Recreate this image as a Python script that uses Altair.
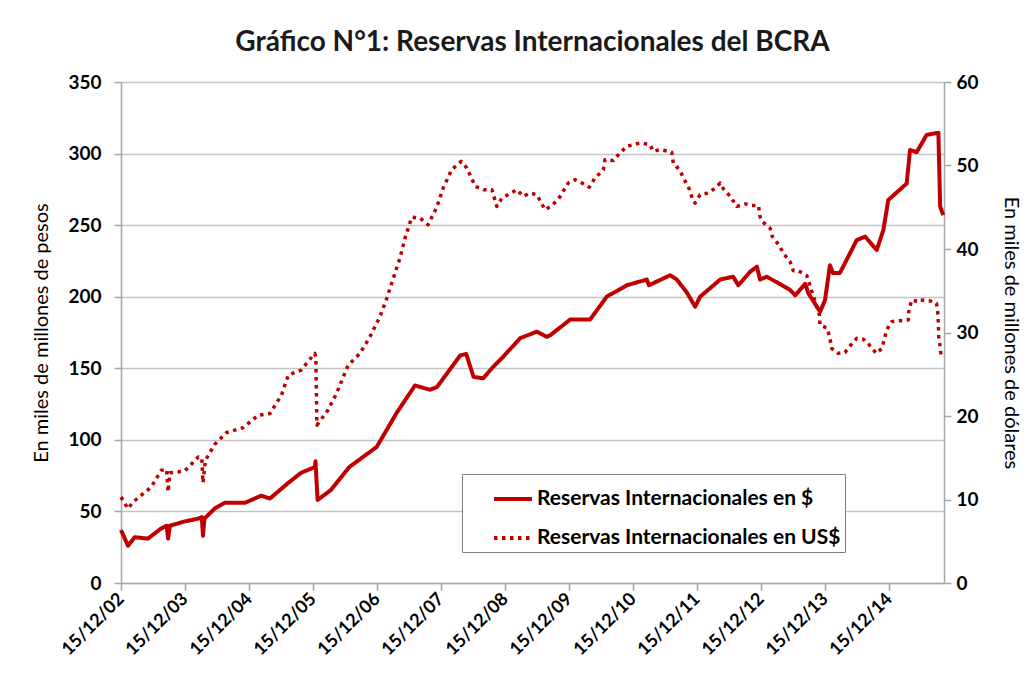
import altair as alt
import pandas as pd

SERIE_PESOS = "Reservas Internacionales en $"
SERIE_USD = "Reservas Internacionales en US$"
RED = "#C00000"

peso_dates = [
    "2002-12-15", "2003-01-24", "2003-03-03", "2003-05-18", "2003-07-31", "2003-09-01",
    "2003-09-10", "2003-09-20", "2003-12-13", "2004-03-01", "2004-03-20", "2004-03-27",
    "2004-04-04", "2004-06-02", "2004-07-29", "2004-11-21", "2005-02-22", "2005-04-13",
    "2005-07-27", "2005-10-08", "2005-12-25", "2005-12-29", "2006-01-10", "2006-03-27",
    "2006-07-10", "2006-12-13", "2007-04-07", "2007-07-20", "2007-10-14", "2007-11-23",
    "2008-04-03", "2008-05-07", "2008-06-18", "2008-08-12", "2008-10-08", "2008-12-04",
    "2009-03-11", "2009-06-14", "2009-08-10", "2009-08-29", "2009-12-21", "2010-04-14",
    "2010-07-18", "2010-11-10", "2011-03-04", "2011-03-16", "2011-07-15", "2011-08-22",
    "2011-10-18", "2011-12-05", "2012-01-02", "2012-04-26", "2012-07-09", "2012-08-07",
    "2012-10-14", "2012-11-21", "2012-12-09", "2013-01-17", "2013-05-30", "2013-06-28",
    "2013-08-24", "2013-09-10", "2013-11-17", "2013-12-15", "2014-01-12", "2014-01-29",
    "2014-03-10", "2014-06-14", "2014-08-01", "2014-10-06", "2014-11-13", "2014-12-11",
    "2015-03-26", "2015-04-14", "2015-05-22", "2015-07-18", "2015-09-23", "2015-10-03",
    "2015-10-21",
]
peso_values = [
    37, 26, 32, 31, 38, 40,
    31, 40, 43, 45, 46, 33,
    45, 52, 56, 56, 61, 59,
    70, 77, 81, 85, 58, 65,
    81, 95, 119, 138, 135, 137,
    159, 160, 144, 143, 151, 158,
    171, 175.6, 172, 173, 184, 184,
    200, 208, 212, 208, 215, 212,
    203, 193, 200, 212, 214, 208,
    217.5, 221, 212, 214, 204.7, 201,
    209, 202.6, 189.5, 197.7, 222, 216.6,
    216.6, 239.6, 242, 232.6, 246.6, 267.6,
    279, 302.5, 301, 313, 314.6, 263,
    257,
]

usd_dates = [
    "2002-12-15", "2003-01-24", "2003-02-22", "2003-06-06", "2003-08-02", "2003-09-01",
    "2003-09-10", "2003-09-20", "2003-12-13", "2004-03-01", "2004-03-20", "2004-03-27",
    "2004-04-10", "2004-06-02", "2004-08-07", "2004-11-11", "2005-02-05", "2005-04-13",
    "2005-06-18", "2005-07-27", "2005-10-08", "2005-12-25", "2005-12-31", "2006-01-06",
    "2006-03-10", "2006-04-28", "2006-07-04", "2006-09-09", "2006-11-05", "2007-01-01",
    "2007-02-09", "2007-03-18", "2007-04-25", "2007-05-24", "2007-07-01", "2007-08-18",
    "2007-10-02", "2007-11-21", "2007-12-28", "2008-02-14", "2008-04-09", "2008-05-11",
    "2008-06-28", "2008-08-14", "2008-10-01", "2008-10-29", "2008-11-27", "2009-02-20",
    "2009-03-29", "2009-05-06", "2009-06-14", "2009-07-31", "2009-09-08", "2009-10-16",
    "2009-12-11", "2010-01-19", "2010-02-26", "2010-04-10", "2010-05-12", "2010-06-29",
    "2010-07-08", "2010-08-25", "2010-10-02", "2010-11-10", "2011-01-24", "2011-03-22",
    "2011-04-10", "2011-05-18", "2011-07-24", "2011-08-02", "2011-09-09", "2011-10-04",
    "2011-11-01", "2011-11-21", "2011-12-04", "2012-01-02", "2012-02-18", "2012-03-28",
    "2012-04-26", "2012-05-14", "2012-06-22", "2012-07-30", "2012-09-15", "2012-10-23",
    "2012-11-30", "2012-12-09", "2012-12-21", "2013-02-04", "2013-02-17", "2013-03-29",
    "2013-04-21", "2013-05-29", "2013-06-17", "2013-07-16", "2013-09-02", "2013-11-13",
    "2013-11-16", "2013-12-28", "2014-01-12", "2014-01-22", "2014-02-28", "2014-04-08",
    "2014-05-07", "2014-06-14", "2014-07-22", "2014-08-25", "2014-10-03", "2014-11-05",
    "2014-12-02", "2014-12-30", "2015-02-06", "2015-04-04", "2015-04-08", "2015-04-24",
    "2015-05-31", "2015-06-07", "2015-08-05", "2015-09-12", "2015-09-21", "2015-09-25",
    "2015-10-03", "2015-10-09",
]
usd_values = [
    10.3, 8.9, 9.7, 11.5, 13.5, 13.6,
    10.9, 13.2, 13.4, 15.1, 15.0, 12.0,
    14.7, 16.6, 18.0, 18.6, 20.1, 20.3,
    22.5, 24.9, 25.5, 27.5, 27.0, 18.9,
    20.7, 22.7, 26.1, 27.5, 29.5, 31.9,
    34.1, 36.5, 38.9, 41.3, 43.8, 43.7,
    42.9, 45.0, 47.3, 49.5, 50.5, 49.7,
    47.5, 47.1, 47.1, 45.1, 46.1, 47.1,
    46.3, 46.7, 46.5, 44.7, 45.2, 46.0,
    47.9, 48.3, 47.9, 47.4, 48.5, 49.5,
    50.7, 50.6, 51.5, 52.3, 52.7, 52.5,
    51.7, 51.9, 51.6, 50.3, 49.4, 48.3,
    47.2, 45.9, 45.5, 46.5, 46.7, 47.3,
    47.9, 47.2, 46.3, 45.1, 45.4, 45.2,
    45.2, 43.9, 43.3, 42.5, 41.5, 40.4,
    39.5, 38.5, 37.4, 37.4, 36.8, 32.1,
    30.9, 30.5, 29.3, 28.1, 27.5, 27.6,
    28.4, 29.3, 29.2, 28.5, 27.5, 28.1,
    30.3, 31.3, 31.4, 31.5, 32.7, 33.9,
    33.7, 33.9, 33.8, 33.5, 32.1, 29.5,
    28.3, 27.1,
]

tick_years = [2002, 2003, 2004, 2005, 2006, 2007, 2008, 2009, 2010, 2011, 2012, 2013, 2014]

df = pd.concat([
    pd.DataFrame({"fecha": peso_dates, "valor": peso_values, "serie": SERIE_PESOS}),
    pd.DataFrame({"fecha": usd_dates, "valor": usd_values, "serie": SERIE_USD}),
], ignore_index=True)

FONT = "Lato"

x_enc = alt.X(
    "fecha:T",
    scale=alt.Scale(type="utc", domain=[alt.DateTime(year=2002, month=12, date=15, utc=True),
                                        alt.DateTime(year=2015, month=10, date=25, utc=True)]),
    axis=alt.Axis(
        title=None,
        values=[alt.DateTime(year=y, month=12, date=15, utc=True) for y in tick_years],
        labelExpr="utcFormat(datum.value, '%d/%m/%y')",
        labelAngle=-45,
        labelAlign="right",
        labelBaseline="middle",
        labelPadding=6,
        labelFontSize=18,
        labelFontWeight="bold",
        labelOverlap=False,
        grid=False,
        tickSize=7,
    ),
)

color_enc = alt.Color(
    "serie:N",
    scale=alt.Scale(domain=[SERIE_PESOS, SERIE_USD], range=[RED, RED]),
    legend=alt.Legend(
        title=None,
        orient="none",
        legendX=341,
        legendY=392,
        fillColor="white",
        strokeColor="#808080",
        padding=4,
        rowPadding=8,
        symbolType="stroke",
        symbolStrokeWidth=4,
        symbolSize=1444,
        symbolOffset=26,
        labelFontSize=21,
        labelFontWeight="bold",
        labelOffset=3,
        labelLimit=500,
    ),
)
dash_enc = alt.StrokeDash(
    "serie:N",
    scale=alt.Scale(domain=[SERIE_PESOS, SERIE_USD], range=[[1, 0], [3.5, 4.5]]),
    legend=alt.Legend(title=None),
)

base = alt.Chart(df)

peso_layer = base.transform_filter(alt.datum.serie == SERIE_PESOS).mark_line(
    strokeWidth=4, strokeJoin="round"
).encode(
    x=x_enc,
    y=alt.Y(
        "valor:Q",
        scale=alt.Scale(domain=[0, 350]),
        axis=alt.Axis(
            title="En miles de millones de pesos",
            values=[0, 50, 100, 150, 200, 250, 300, 350],
            orient="left",
            labelFontSize=19,
            labelFontWeight="bold",
            labelPadding=13,
            tickSize=7,
            titleFontSize=20,
            titleFontWeight="normal",
            titlePadding=16,
        ),
    ),
    color=color_enc,
    strokeDash=dash_enc,
)

usd_layer = base.transform_filter(alt.datum.serie == SERIE_USD).mark_line(
    strokeWidth=3.5, strokeJoin="round"
).encode(
    x=x_enc,
    y=alt.Y(
        "valor:Q",
        scale=alt.Scale(domain=[0, 60]),
        axis=alt.Axis(
            title="En miles de millones de dólares",
            values=[0, 10, 20, 30, 40, 50, 60],
            orient="right",
            grid=False,
            labelFontSize=19,
            labelFontWeight="bold",
            labelPadding=5,
            tickSize=7,
            titleFontSize=20,
            titleFontWeight="normal",
            titlePadding=22,
        ),
    ),
    color=color_enc,
    strokeDash=dash_enc,
)

chart = alt.layer(peso_layer, usd_layer).resolve_scale(y="independent").properties(
    width=823,
    height=501,
    autosize=alt.AutoSizeParams(type="none"),
    padding={"left": 113, "top": 74, "right": 80, "bottom": 85},
    background="white",
    title=alt.TitleParams(
        "Gráfico N°1: Reservas Internacionales del BCRA",
        fontSize=28,
        fontWeight="bold",
        font=FONT,
        color="#1a1a1a",
        anchor="middle",
        offset=16,
    ),
).configure(
    font=FONT,
).configure_axis(
    labelFont=FONT,
    titleFont=FONT,
    labelColor="#000000",
    titleColor="#000000",
    domainColor="#A6A6A6",
    domainWidth=1.5,
    tickColor="#A6A6A6",
    tickWidth=1.5,
    gridColor="#C4C4C4",
    gridWidth=1.5,
).configure_legend(
    labelFont=FONT,
    labelColor="#000000",
).configure_view(
    stroke=None,
)

chart.save("out.html", embed_options={"renderer": "svg", "actions": False})
